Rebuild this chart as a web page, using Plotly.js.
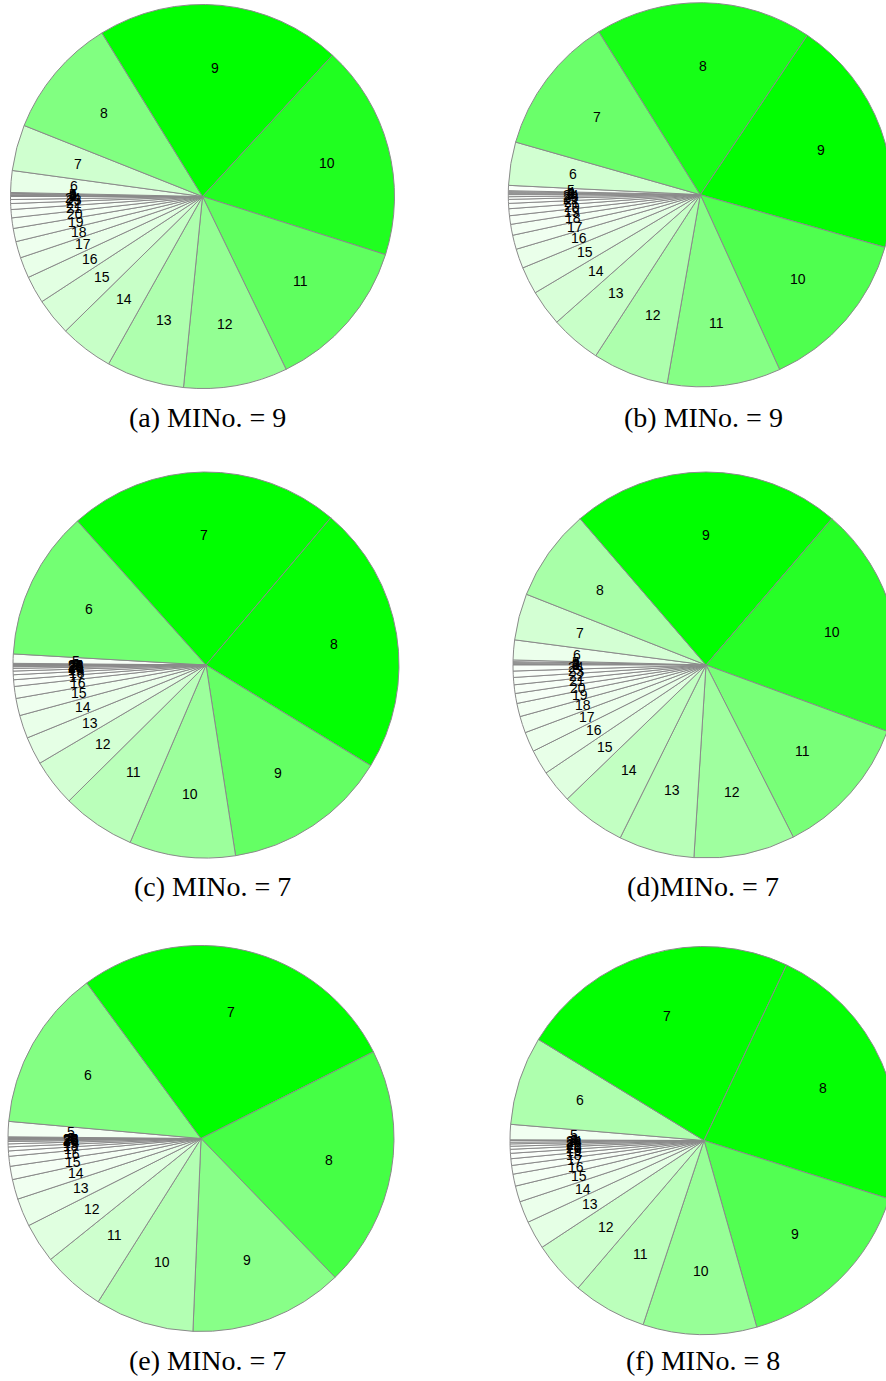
<!DOCTYPE html>
<html>
<head>
<meta charset="utf-8">
<script src="https://cdn.plot.ly/plotly-3.0.1.min.js"></script>
<style>
  html, body { margin: 0; padding: 0; overflow: hidden; background: #ffffff; }
  #chart { width: 910px; height: 1381px; }
</style>
</head>
<body>
<div id="chart"></div>
<script>
// Category labels shared by every pie (drawn clockwise from 9 o'clock)
const categories = ['1','2','3','4','5','6','7','8','9','10','11','12',
                    '13','14','15','16','17','18','19','20','21','22','23','24'];

// Slice sizes, one array per sub-figure, in category order
const valuesA = [0.3, 0.2, 0.2, 0.25, 0.25, 6.6, 13.9, 36.7, 74.2, 65.0, 46.55, 31.5,
                 23.6, 16.2, 11.3, 8.3, 6.3, 5.0, 4.0, 3.2, 2.5, 1.8, 1.2, 0.9];
const valuesB = [0.3, 0.3, 0.3, 0.3, 1.6, 13.1, 42.2, 65.8, 72.0, 49.7, 34.35, 23.05,
                 15.4, 10.9, 8.3, 5.9, 4.3, 3.3, 2.6, 2.1, 1.6, 1.2, 0.8, 0.6];
const valuesC = [0.1, 0.1, 0.15, 0.15, 2.8, 45.0, 82.1, 81.2, 49.8, 32.0, 22.1, 14.2,
                 8.4, 7.0, 5.2, 3.6, 2.0, 1.5, 1.1, 0.8, 0.5, 0.25, 0.15, 0.1];
const valuesD = [0.2, 0.2, 0.3, 0.3, 0.5, 6.0, 14.0, 27.8, 81.4, 69.4, 43.0, 30.5,
                 22.8, 19.6, 10.0, 7.5, 6.0, 5.0, 4.0, 3.0, 2.6, 2.2, 1.9, 1.8];
const valuesE = [0.1, 0.1, 0.15, 0.15, 4.6, 48.6, 99.6, 72.7, 46.4, 29.8, 19.0, 12.0,
                 8.5, 6.0, 4.0, 3.0, 1.6, 1.2, 0.9, 0.7, 0.4, 0.25, 0.15, 0.1];
const valuesF = [0.05, 0.05, 0.05, 0.05, 4.6, 26.6, 83.8, 82.3, 56.7, 34.1, 22.2, 16.1,
                 8.5, 6.5, 4.8, 3.6, 2.6, 2.0, 1.6, 1.2, 0.9, 0.7, 0.5, 0.5];

// Sub-figure captions
const captions = ['(a) MINo. = 9', '(b) MINo. = 9', '(c) MINo. = 7',
                  '(d)MINo. = 7', '(e) MINo. = 7', '(f) MINo. = 8'];

// Page geometry (pixels)
const W = 910, H = 1381;
const START_ANGLE = 270;      // first slice starts at 9 o'clock
const LABEL_RADIUS = 0.672;   // slice labels sit at this fraction of the radius

const panels = [
  { values: valuesA, cx: 202.5, cy: 196.5,  r: 192, capX: 207.5, capY: 417 },
  { values: valuesB, cx: 700.3, cy: 194.7,  r: 192, capX: 703.5, capY: 417 },
  { values: valuesC, cx: 206,   cy: 665,    r: 193, capX: 212,   capY: 886 },
  { values: valuesD, cx: 706,   cy: 665,    r: 193, capX: 702.5, capY: 886 },
  { values: valuesE, cx: 201,   cy: 1138.5, r: 193, capX: 207.5, capY: 1360 },
  { values: valuesF, cx: 704,   cy: 1140.5, r: 194, capX: 703,   capY: 1360 }
];

const traces = [];
const annotations = [];

panels.forEach((p, k) => {
  const vals = p.values;
  const vmax = Math.max(...vals);
  const total = vals.reduce((a, b) => a + b, 0);

  // Shade each slice from white towards pure green by its share of the largest slice
  const colors = vals.map(v => {
    const c = Math.round(255 * (1 - v / vmax));
    return `rgb(${c},255,${c})`;
  });

  traces.push({
    type: 'pie',
    labels: categories,
    values: vals,
    sort: false,
    direction: 'clockwise',
    rotation: START_ANGLE,
    textinfo: 'none',
    hoverinfo: 'label+value',
    showlegend: false,
    marker: { colors: colors, line: { color: '#8a8a8a', width: 1 } },
    domain: {
      x: [(p.cx - p.r) / W, (p.cx + p.r) / W],
      y: [1 - (p.cy + p.r) / H, 1 - (p.cy - p.r) / H]
    }
  });

  // Category labels placed along each slice's middle angle
  let acc = 0;
  vals.forEach((v, i) => {
    const mid = (START_ANGLE + (acc + v / 2) / total * 360) * Math.PI / 180;
    acc += v;
    const x = p.cx + LABEL_RADIUS * p.r * Math.sin(mid);
    const y = p.cy - LABEL_RADIUS * p.r * Math.cos(mid);
    annotations.push({
      xref: 'paper', yref: 'paper',
      x: x / W, y: 1 - y / H,
      text: categories[i],
      showarrow: false,
      xanchor: 'center', yanchor: 'middle',
      font: { family: 'Liberation Sans, Arial, sans-serif', size: 14, color: '#000000' }
    });
  });

  annotations.push({
    xref: 'paper', yref: 'paper',
    x: p.capX / W, y: 1 - p.capY / H,
    text: captions[k],
    showarrow: false,
    xanchor: 'center', yanchor: 'middle',
    font: { family: 'Liberation Serif, Times New Roman, serif', size: 28, color: '#000000' }
  });
});

const layout = {
  width: W,
  height: H,
  margin: { l: 0, r: 0, t: 0, b: 0 },
  paper_bgcolor: '#ffffff',
  plot_bgcolor: '#ffffff',
  showlegend: false,
  annotations: annotations
};

Plotly.newPlot('chart', traces, layout, { displayModeBar: false, staticPlot: true });
</script>
</body>
</html>
